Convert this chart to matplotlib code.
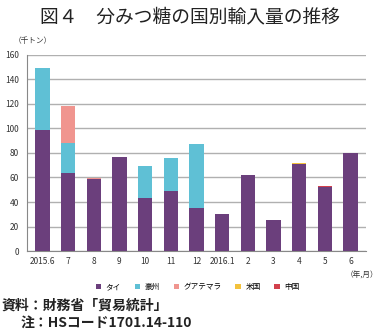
import numpy as np
import matplotlib.pyplot as plt

plt.rcParams['font.family'] = ['Noto Sans CJK JP', 'DejaVu Sans']

months = ["2015.6", "7", "8", "9", "10", "11", "12", "2016.1", "2", "3", "4", "5", "6"]
thai = [99, 64, 59, 77, 43, 49, 35, 30, 62, 25, 71, 52, 80]
australia = [50, 24, 0, 0, 26, 27, 52, 0, 0, 0, 0, 0, 0]
guatemala = [0, 30, 0.7, 0, 0, 0, 0, 0, 0, 0, 0, 0, 0]
usa = [0, 0, 0, 0, 0, 0, 0, 0, 0, 0, 0.6, 0, 0]
china = [0, 0, 0, 0, 0, 0, 0, 0, 0, 0, 0, 0.8, 0]

series = [("タイ", thai, "#6b3f7c"),
          ("豪州", australia, "#5fc0d5"),
          ("グアテマラ", guatemala, "#f0958f"),
          ("米国", usa, "#f3c23c"),
          ("中国", china, "#d2404c")]

fig = plt.figure(figsize=(3.8, 3.29), dpi=100)
ax = fig.add_axes([0.071, 0.237, 0.892, 0.596])

x = np.arange(len(months))
bottom = np.zeros(len(months))
for name, vals, col in series:
    vals = np.array(vals, dtype=float)
    ax.bar(x, vals, 0.56, bottom=bottom, color=col, label=name, zorder=3)
    bottom += vals

ax.set_ylim(0, 160)
ax.set_xlim(-0.6, len(months) - 0.4)
ax.set_yticks(range(0, 161, 20))
ax.set_xticks(x)
ax.set_xticklabels(months)
ax.tick_params(axis='both', labelsize=6, length=0, pad=4, colors='#333333')
ax.tick_params(axis='y', pad=6)
ax.yaxis.grid(True, color='#b0b0b0', linewidth=1.0, zorder=0)
for s in ['top', 'right']:
    ax.spines[s].set_visible(False)
ax.spines['left'].set_color('#888888')
ax.spines['bottom'].set_color('#888888')

fig.text(0.5, 0.948, "図４　分みつ糖の国別輸入量の推移", ha='center', va='center',
         fontsize=13.5, color='#222222')
fig.text(0.035, 0.875, "（千トン）", ha='left', va='center', fontsize=5.5, color='#333333')
fig.text(0.995, 0.163, "（年,月）", ha='right', va='center', fontsize=5.5, color='#333333')

fig.legend(loc='center', bbox_to_anchor=(0.52, 0.128), ncol=5, fontsize=5.5,
           frameon=False, handlelength=0.7, handleheight=0.7, handletextpad=0.6,
           columnspacing=1.8)

fig.text(0.005, 0.072, "資料：財務省「貿易統計」", ha='left', va='center',
         fontsize=10, fontweight='bold', color='#222222')
fig.text(0.055, 0.02, "注：HSコード1701.14-110", ha='left', va='center',
         fontsize=10, fontweight='bold', color='#222222')

fig.savefig("out.png", dpi=100)
